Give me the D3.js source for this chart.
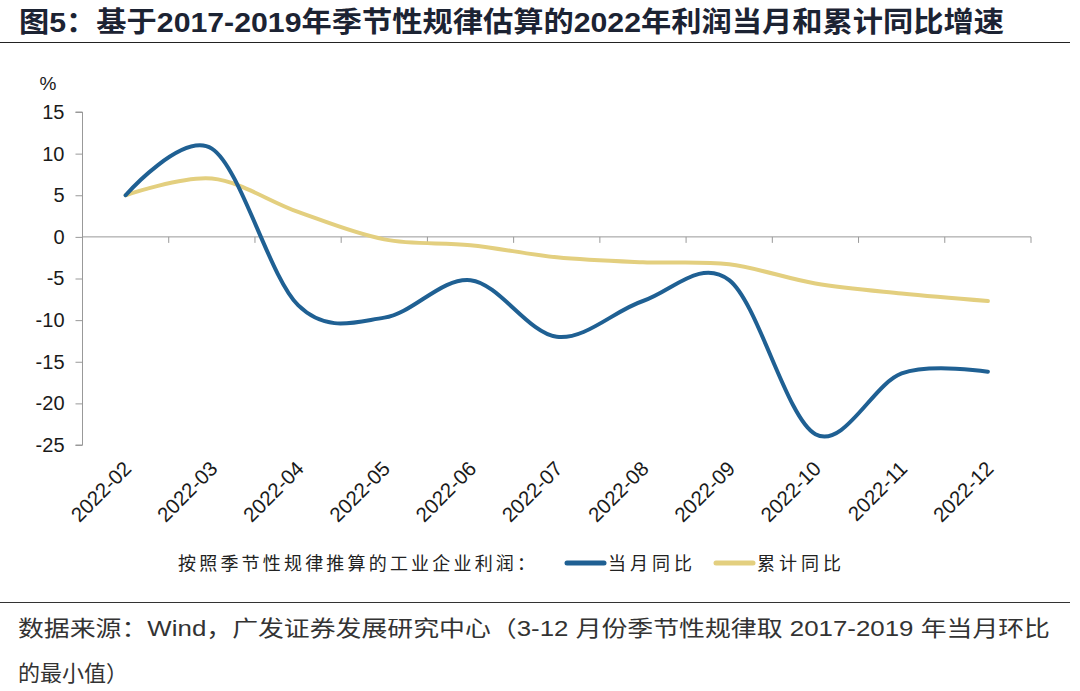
<!DOCTYPE html>
<html>
<head>
<meta charset="UTF-8">
<title>利润当月和累计同比增速</title>
<script src="https://cdn.jsdelivr.net/npm/d3@7/dist/d3.min.js"></script>
<style>
  body { margin: 0; background: #fff; }
  svg { display: block; }
  .ttl { font-family: "Liberation Sans", "Noto Sans CJK SC", sans-serif; font-weight: bold; fill: #1c2333; }
  .tick text { font-family: "Liberation Sans", Arial, sans-serif; fill: #1a1a1a; }
  .lg { font-family: "Noto Sans CJK SC", sans-serif; fill: #222; }
  .src { font-family: "Liberation Sans", "Noto Sans CJK SC", sans-serif; fill: #333; }
</style>
</head>
<body>
<script>
// data
var months = ["2022-02", "2022-03", "2022-04", "2022-05", "2022-06", "2022-07",
              "2022-08", "2022-09", "2022-10", "2022-11", "2022-12"];
var monthly = [5.0, 10.6, -8.2, -9.7, -5.2, -12.0, -7.7, -5.2, -23.7, -16.4, -16.2];
var cumul   = [5.0, 7.0, 3.0, -0.3, -1.0, -2.45, -3.05, -3.3, -5.6, -6.8, -7.7];
var yTicks  = [15, 10, 5, 0, -5, -10, -15, -20, -25];
var names   = ["当月同比", "累计同比"];

var W = 1080, H = 691;
var blue = "#1f6093", gold = "#e3cf7f";

var svg = d3.select("body").append("svg")
    .attr("width", W)
    .attr("height", H);

// title + rule
var title = svg.append("text")
    .attr("class", "ttl")
    .attr("x", 19)
    .attr("y", 32)
    .attr("font-size", 28)
    .text("图5：基于2017-2019年季节性规律估算的2022年利润当月和累计同比增速");
title.attr("textLength", 985).attr("lengthAdjust", "spacingAndGlyphs");

svg.append("line")
    .attr("x1", 0).attr("x2", 1070)
    .attr("y1", 42.5).attr("y2", 42.5)
    .attr("stroke", "#222").attr("stroke-width", 1.2);

// scales
var x = d3.scaleBand().domain(months).range([82.5, 1031]);
var y = d3.scaleLinear().domain([-25, 15]).range([445, 112]);
var cx = function(m) { return x(m) + x.bandwidth() / 2; };

// y axis (plain hyphen for negatives, like the source)
var yAxis = svg.append("g")
    .attr("transform", "translate(82.5,0)")
    .call(d3.axisLeft(y).tickValues(yTicks).tickSize(7).tickPadding(11).tickFormat(function(d) { return String(d); }));
yAxis.selectAll("path, line").attr("stroke", "#999");
yAxis.selectAll(".tick text").attr("font-size", 20);
yAxis.select(".domain").attr("d", "M-7," + y(15) + "H0V" + y(-25) + "H-7");

svg.append("text")
    .attr("x", 48).attr("y", 90)
    .attr("text-anchor", "middle")
    .attr("font-family", "Liberation Sans, Arial, sans-serif")
    .attr("font-size", 19)
    .attr("fill", "#1a1a1a")
    .text("%");

// x axis along zero line, ticks at band edges
var zero = y(0);
svg.append("line")
    .attr("x1", x.range()[0]).attr("x2", x.range()[1])
    .attr("y1", zero).attr("y2", zero)
    .attr("stroke", "#999").attr("stroke-width", 1);
var edges = months.map(function(m) { return x(m); }).concat([x.range()[1]]);
svg.selectAll(".xt").data(edges.slice(1)).enter().append("line")
    .attr("class", "xt")
    .attr("x1", function(d) { return d; }).attr("x2", function(d) { return d; })
    .attr("y1", zero).attr("y2", zero + 6)
    .attr("stroke", "#999");

// x labels at bottom, rotated
svg.selectAll(".xl").data(months).enter().append("text")
    .attr("class", "xl")
    .attr("transform", function(m) { return "translate(" + (cx(m) + 7) + ",470) rotate(-45)"; })
    .attr("text-anchor", "end")
    .attr("font-family", "Liberation Sans, Arial, sans-serif")
    .attr("font-size", 20.5)
    .attr("fill", "#1a1a1a")
    .text(function(m) { return m; });

// lines
var line = d3.line()
    .x(function(d) { return cx(d.m); })
    .y(function(d) { return y(d.v); })
    .curve(d3.curveCardinal.tension(0));

var series = [
  { name: names[1], color: gold, vals: cumul },
  { name: names[0], color: blue, vals: monthly }
];
series.forEach(function(s) {
  svg.append("path")
      .datum(months.map(function(m, i) { return { m: m, v: s.vals[i] }; }))
      .attr("d", line)
      .attr("fill", "none")
      .attr("stroke", s.color)
      .attr("stroke-width", 4)
      .attr("stroke-linecap", "round");
});

// legend
var ly = 563;
svg.append("text")
    .attr("class", "lg")
    .attr("x", 178).attr("y", ly + 6.5)
    .attr("font-size", 18)
    .attr("textLength", 357).attr("lengthAdjust", "spacing")
    .text("按照季节性规律推算的工业企业利润：");
var lgItems = [
  { name: names[0], color: blue, x0: 567 },
  { name: names[1], color: gold, x0: 716 }
];
lgItems.forEach(function(d) {
  svg.append("line")
      .attr("x1", d.x0).attr("x2", d.x0 + 37)
      .attr("y1", ly).attr("y2", ly)
      .attr("stroke", d.color).attr("stroke-width", 5).attr("stroke-linecap", "round");
  svg.append("text")
      .attr("class", "lg")
      .attr("x", d.x0 + 41).attr("y", ly + 6.5)
      .attr("font-size", 18)
      .attr("textLength", 84).attr("lengthAdjust", "spacing")
      .text(d.name);
});

// source note
svg.append("line")
    .attr("x1", 0).attr("x2", 1070)
    .attr("y1", 602.5).attr("y2", 602.5)
    .attr("stroke", "#333").attr("stroke-width", 1.2);
svg.append("text")
    .attr("class", "src")
    .attr("x", 18).attr("y", 636)
    .attr("font-size", 22)
    .attr("textLength", 1032).attr("lengthAdjust", "spacingAndGlyphs")
    .text("数据来源：Wind，广发证券发展研究中心（3-12 月份季节性规律取 2017-2019 年当月环比");
svg.append("text")
    .attr("class", "src")
    .attr("x", 18).attr("y", 681)
    .attr("font-size", 22)
    .text("的最小值）");
</script>
</body>
</html>
